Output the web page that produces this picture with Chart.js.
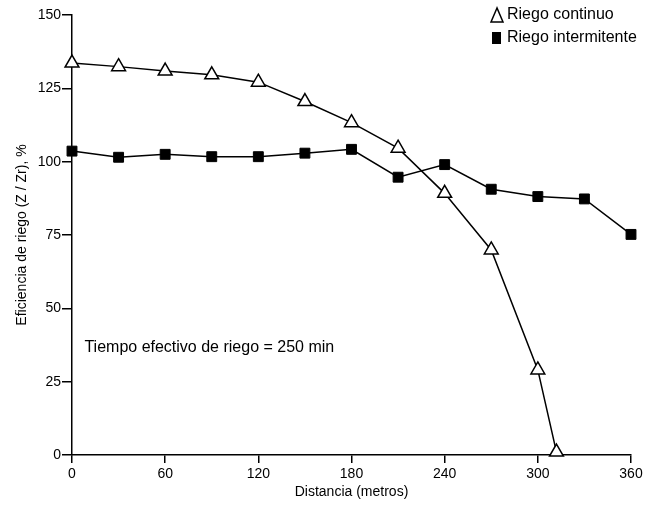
<!DOCTYPE html>
<html>
<head>
<meta charset="utf-8">
<script src="https://cdn.jsdelivr.net/npm/chart.js@4.4.1/dist/chart.umd.min.js"></script>
<style>
  html, body { margin: 0; padding: 0; background: #fff; }
  #wrap { width: 657px; height: 505px; }
</style>
</head>
<body>
<div id="wrap"><canvas id="chart1"></canvas></div>
<script>
// data
var distContinuo = [0, 30, 60, 90, 120, 150, 180, 210, 240, 270, 300, 312];
var riegoContinuo = [133.6, 132.4, 130.9, 129.6, 127.1, 120.5, 113.3, 104.6, 89.2, 69.9, 29.0, 1.0];
var distIntermitente = [0, 30, 60, 90, 120, 150, 180, 210, 240, 270, 300, 330, 360];
var riegoIntermitente = [103.6, 101.5, 102.5, 101.7, 101.7, 102.9, 104.2, 94.7, 99.0, 90.6, 88.1, 87.3, 75.2];
var xTicks = [0, 60, 120, 180, 240, 300, 360];
var yTicks = [0, 25, 50, 75, 100, 125, 150];

var labelContinuo = 'Riego continuo';
var labelIntermitente = 'Riego intermitente';
var nota = 'Tiempo efectivo de riego = 250 min';

function pts(xs, ys) {
    return xs.map(function(x, i) { return { x: x, y: ys[i] }; });
}

var fontName = '"Liberation Sans", Arial, Helvetica, sans-serif';

// legend + note drawn on the canvas
var extras = {
    id: 'extras',
    afterDraw: function(chart) {
        var ctx = chart.ctx;
        var xs = chart.scales.x, ys = chart.scales.y;
        ctx.save();
        ctx.fillStyle = '#000';
        ctx.strokeStyle = '#000';
        ctx.font = '16px ' + fontName;
        ctx.textBaseline = 'middle';

        // triangle symbol
        ctx.lineWidth = 1.5;
        ctx.beginPath();
        ctx.moveTo(497, 8);
        ctx.lineTo(491, 22);
        ctx.lineTo(503, 22);
        ctx.closePath();
        ctx.stroke();
        ctx.fillText(labelContinuo, 507, 15);

        // square symbol
        ctx.fillRect(492, 32, 9, 12);
        ctx.fillText(labelIntermitente, 507, 38);

        // note
        ctx.textAlign = 'left';
        ctx.fillText(nota, xs.getPixelForValue(8), ys.getPixelForValue(36.5));
        ctx.restore();
    }
};

var ctx = document.getElementById('chart1').getContext('2d');
var myChart = new Chart(ctx, {
    type: 'line',
    data: {
        datasets: [{
            label: labelContinuo,
            data: pts(distContinuo, riegoContinuo),
            borderColor: '#000',
            borderWidth: 1.5,
            tension: 0,
            clip: false,
            pointStyle: 'triangle',
            pointRadius: 8,
            pointBackgroundColor: '#fff',
            pointBorderColor: '#000',
            pointBorderWidth: 1.5
        },
        {
            label: labelIntermitente,
            data: pts(distIntermitente, riegoIntermitente),
            borderColor: '#000',
            borderWidth: 1.5,
            tension: 0,
            clip: false,
            pointStyle: 'rect',
            pointRadius: 7,
            pointBackgroundColor: '#000',
            pointBorderColor: '#000',
            pointBorderWidth: 1
        }]
    },
    options: {
        responsive: true,
        maintainAspectRatio: false,
        animation: false,
        layout: { padding: { top: 15, right: 26, bottom: 0, left: 0 } },
        plugins: {
            legend: { display: false },
            tooltip: { enabled: false }
        },
        scales: {
            x: {
                type: 'linear',
                min: 0,
                max: 360,
                afterBuildTicks: function(axis) {
                    axis.ticks = xTicks.map(function(v) { return { value: v }; });
                },
                afterFit: function(axis) { axis.height = 50; },
                border: { display: true, color: '#000', width: 1.5 },
                grid: { drawOnChartArea: false, drawTicks: true, tickLength: 8, color: '#000', lineWidth: 1.5 },
                ticks: { color: '#000', font: { family: fontName, size: 14 }, padding: 3, maxRotation: 0 },
                title: {
                    display: true,
                    text: 'Distancia (metros)',
                    color: '#000',
                    font: { family: fontName, size: 14 },
                    padding: { top: 0, bottom: 4 }
                }
            },
            y: {
                min: 0,
                max: 150,
                afterBuildTicks: function(axis) {
                    axis.ticks = yTicks.map(function(v) { return { value: v }; });
                },
                afterFit: function(axis) { axis.width = 72; },
                border: { display: true, color: '#000', width: 1.5 },
                grid: { drawOnChartArea: false, drawTicks: true, tickLength: 10, color: '#000', lineWidth: 1.5 },
                ticks: { color: '#000', font: { family: fontName, size: 14 }, padding: 1 },
                title: {
                    display: true,
                    text: 'Eficiencia de riego (Z / Zr), %',
                    color: '#000',
                    font: { family: fontName, size: 14 },
                    padding: { top: 14, bottom: 0 }
                }
            }
        }
    },
    plugins: [extras]
});
</script>
</body>
</html>
